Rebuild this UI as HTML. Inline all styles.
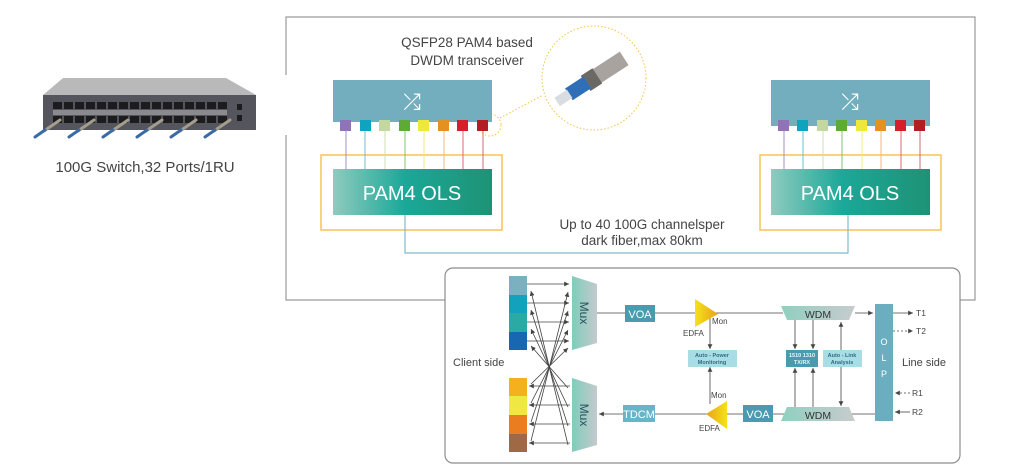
<!DOCTYPE html>
<html><head><meta charset="utf-8"><style>
html,body{margin:0;padding:0;background:#fff}
svg{display:block}
text{font-family:"Liberation Sans",sans-serif}
</style></head><body>
<svg width="1024" height="476" viewBox="0 0 1024 476" xmlns="http://www.w3.org/2000/svg">
<defs>
<linearGradient id="ols" x1="0" x2="1"><stop offset="0" stop-color="#8fcbbf"/><stop offset="0.45" stop-color="#1ba898"/><stop offset="1" stop-color="#1e9275"/></linearGradient>
<linearGradient id="mux" x1="0" x2="1"><stop offset="0" stop-color="#7ecdbb"/><stop offset="1" stop-color="#c4c9cc"/></linearGradient>
<linearGradient id="wdm" x1="0" x2="1"><stop offset="0" stop-color="#8fd0bf"/><stop offset="1" stop-color="#c8cbce"/></linearGradient>
<linearGradient id="edfa" x1="0" x2="1"><stop offset="0" stop-color="#f5e21a"/><stop offset="1" stop-color="#e9a21a"/></linearGradient>
<linearGradient id="edfa2" x1="1" x2="0"><stop offset="0" stop-color="#f5e21a"/><stop offset="1" stop-color="#e9a21a"/></linearGradient>
<marker id="ah" viewBox="0 0 6 6" refX="6" refY="3" markerWidth="6" markerHeight="6" orient="auto-start-reverse"><path d="M0,0 L6,3 L0,6 z" fill="#444"/></marker>
</defs>

<g stroke="#9a9a9a" stroke-width="1.2" fill="none">
<path d="M286,75 V17 H975 V300 H960"/>
<path d="M286,135 V300 H445"/>
</g>

<polygon points="63,78 226,78 256,95 43,95" fill="#b9b9b9"/>
<rect x="43" y="95" width="213" height="35" fill="#55555d"/>
<g fill="#1c1c1f">
<rect x="53" y="102" width="9" height="7"/><rect x="64" y="102" width="9" height="7"/><rect x="75" y="102" width="9" height="7"/><rect x="86" y="102" width="9" height="7"/><rect x="97" y="102" width="9" height="7"/><rect x="108" y="102" width="9" height="7"/><rect x="119" y="102" width="9" height="7"/><rect x="130" y="102" width="9" height="7"/><rect x="141" y="102" width="9" height="7"/><rect x="152" y="102" width="9" height="7"/><rect x="163" y="102" width="9" height="7"/><rect x="174" y="102" width="9" height="7"/><rect x="185" y="102" width="9" height="7"/><rect x="196" y="102" width="9" height="7"/><rect x="207" y="102" width="9" height="7"/><rect x="218" y="102" width="9" height="7"/>
<rect x="53" y="116" width="9" height="7"/><rect x="64" y="116" width="9" height="7"/><rect x="75" y="116" width="9" height="7"/><rect x="86" y="116" width="9" height="7"/><rect x="97" y="116" width="9" height="7"/><rect x="108" y="116" width="9" height="7"/><rect x="119" y="116" width="9" height="7"/><rect x="130" y="116" width="9" height="7"/><rect x="141" y="116" width="9" height="7"/><rect x="152" y="116" width="9" height="7"/><rect x="163" y="116" width="9" height="7"/><rect x="174" y="116" width="9" height="7"/><rect x="185" y="116" width="9" height="7"/><rect x="196" y="116" width="9" height="7"/><rect x="207" y="116" width="9" height="7"/><rect x="218" y="116" width="9" height="7"/>
<rect x="237" y="104" width="5" height="6"/><rect x="237" y="115" width="5" height="6"/>
</g>
<rect x="53" y="110" width="174" height="5" fill="#8a8a8f"/>
<g stroke-linecap="round">
<g stroke="#a59d8c" stroke-width="3"><line x1="60" y1="120" x2="44" y2="131"/><line x1="94" y1="120" x2="78" y2="131"/><line x1="128" y1="120" x2="112" y2="131"/><line x1="162" y1="120" x2="146" y2="131"/><line x1="196" y1="120" x2="180" y2="131"/><line x1="230" y1="120" x2="214" y2="131"/></g>
<g stroke="#3b6aa8" stroke-width="3"><line x1="45" y1="130" x2="35" y2="137"/><line x1="79" y1="130" x2="69" y2="137"/><line x1="113" y1="130" x2="103" y2="137"/><line x1="147" y1="130" x2="137" y2="137"/><line x1="181" y1="130" x2="171" y2="137"/><line x1="215" y1="130" x2="205" y2="137"/></g>
</g>
<text x="145" y="172" font-size="15" fill="#444" text-anchor="middle">100G Switch,32 Ports/1RU</text>

<text x="467" y="47" font-size="13.5" fill="#444" text-anchor="middle">QSFP28 PAM4 based</text>
<text x="467" y="65" font-size="13.5" fill="#444" text-anchor="middle">DWDM transceiver</text>
<circle cx="594" cy="78" r="52" fill="none" stroke="#f6c14a" stroke-width="1" stroke-dasharray="1.5,2"/>
<circle cx="490" cy="125" r="11" fill="none" stroke="#f6c14a" stroke-width="1" stroke-dasharray="1.5,2"/>
<line x1="500" y1="118" x2="543" y2="95" stroke="#f6c14a" stroke-width="1" stroke-dasharray="1.5,2"/>
<g transform="translate(594,78) rotate(-33)">
<rect x="-8" y="-8" width="44" height="16" fill="#a8a39e"/>
<rect x="-10" y="-9" width="14" height="18" fill="#6b6966"/>
<rect x="-30" y="-7" width="22" height="14" fill="#2f6fb8"/>
<rect x="-44" y="-5" width="15" height="10" fill="#d8dde2"/>
</g>

<rect x="321" y="155" width="181" height="75" fill="none" stroke="#f6c453" stroke-width="1.5"/>
<rect x="333" y="80" width="159" height="42" fill="#72aebe"/>
<text x="412" y="109" font-size="22" fill="#fff" text-anchor="middle">⤮</text>
<g stroke-width="1">
<line x1="346" y1="128" x2="346" y2="169" stroke="#a592c5"/><line x1="365" y1="128" x2="365" y2="169" stroke="#6cc2d2"/><line x1="385" y1="128" x2="385" y2="169" stroke="#cfdcb4"/><line x1="405" y1="128" x2="405" y2="169" stroke="#84c46a"/><line x1="424" y1="128" x2="424" y2="169" stroke="#f1ec7a"/><line x1="444" y1="128" x2="444" y2="169" stroke="#f1b977"/><line x1="463" y1="128" x2="463" y2="169" stroke="#de6970"/><line x1="483" y1="128" x2="483" y2="169" stroke="#c76c70"/>
</g>
<g>
<rect x="340" y="120" width="11" height="11" fill="#8e74b6"/><rect x="360" y="120" width="11" height="11" fill="#10a3be"/><rect x="379" y="120" width="11" height="11" fill="#c3d7a0"/><rect x="399" y="120" width="11" height="11" fill="#5daa35"/><rect x="418" y="120" width="11" height="11" fill="#eee83c"/><rect x="438" y="120" width="11" height="11" fill="#e39120"/><rect x="457" y="120" width="11" height="11" fill="#d51f2a"/><rect x="477" y="120" width="11" height="11" fill="#b11f24"/>
</g>
<rect x="333" y="169" width="159" height="46" fill="url(#ols)"/>
<text x="412" y="200" font-size="20" fill="#fff" text-anchor="middle">PAM4 OLS</text>

<rect x="760" y="155" width="181" height="75" fill="none" stroke="#f6c453" stroke-width="1.5"/>
<rect x="771" y="80" width="159" height="46" fill="#72aebe"/>
<text x="850" y="109" font-size="22" fill="#fff" text-anchor="middle">⤮</text>
<g stroke-width="1">
<line x1="784" y1="128" x2="784" y2="169" stroke="#a592c5"/><line x1="803" y1="128" x2="803" y2="169" stroke="#6cc2d2"/><line x1="823" y1="128" x2="823" y2="169" stroke="#cfdcb4"/><line x1="842" y1="128" x2="842" y2="169" stroke="#84c46a"/><line x1="862" y1="128" x2="862" y2="169" stroke="#f1ec7a"/><line x1="881" y1="128" x2="881" y2="169" stroke="#f1b977"/><line x1="901" y1="128" x2="901" y2="169" stroke="#de6970"/><line x1="920" y1="128" x2="920" y2="169" stroke="#c76c70"/>
</g>
<g>
<rect x="778" y="120" width="11" height="11" fill="#8e74b6"/><rect x="797" y="120" width="11" height="11" fill="#10a3be"/><rect x="817" y="120" width="11" height="11" fill="#c3d7a0"/><rect x="836" y="120" width="11" height="11" fill="#5daa35"/><rect x="856" y="120" width="11" height="11" fill="#eee83c"/><rect x="875" y="120" width="11" height="11" fill="#e39120"/><rect x="895" y="120" width="11" height="11" fill="#d51f2a"/><rect x="914" y="120" width="11" height="11" fill="#b11f24"/>
</g>
<rect x="771" y="169" width="159" height="46" fill="url(#ols)"/>
<text x="850" y="200" font-size="20" fill="#fff" text-anchor="middle">PAM4 OLS</text>

<path d="M405,215 V253 H848 V215" fill="none" stroke="#7dbccb" stroke-width="1.2"/>
<text x="642" y="229" font-size="13.5" fill="#444" text-anchor="middle">Up to 40 100G channelsper</text>
<text x="642" y="245" font-size="13.5" fill="#444" text-anchor="middle">dark fiber,max 80km</text>

<rect x="445" y="268" width="515" height="195" rx="8" fill="#fff" stroke="#8c8c8c" stroke-width="1.2"/>
<text x="453" y="366" font-size="11" fill="#444">Client side</text>
<text x="902" y="366" font-size="11" fill="#444">Line side</text>

<rect x="509" y="276" width="18" height="19" fill="#7ab0c0"/><rect x="509" y="295" width="18" height="18" fill="#12a2bd"/><rect x="509" y="313" width="18" height="19" fill="#2aa9a5"/><rect x="509" y="332" width="18" height="18" fill="#1767b3"/>
<rect x="509" y="378" width="18" height="18" fill="#f5b01e"/><rect x="509" y="396" width="18" height="19" fill="#efe842"/><rect x="509" y="415" width="18" height="19" fill="#e97d20"/><rect x="509" y="434" width="18" height="18" fill="#a06844"/>

<polygon points="572,276 597,284 597,343 572,350" fill="url(#mux)"/>
<polygon points="572,378 597,386 597,445 572,452" fill="url(#mux)"/>
<text transform="translate(580,313) rotate(90)" font-size="12" fill="#2a4f5f" text-anchor="middle">Mux</text>
<text transform="translate(580,415) rotate(90)" font-size="12" fill="#2a4f5f" text-anchor="middle">Mux</text>

<g stroke="#444" stroke-width="0.8" fill="none">
<line x1="527" y1="284" x2="569" y2="284" marker-end="url(#ah)"/><line x1="527" y1="303" x2="569" y2="303" marker-end="url(#ah)"/><line x1="527" y1="322" x2="569" y2="322" marker-end="url(#ah)"/><line x1="527" y1="341" x2="569" y2="341" marker-end="url(#ah)"/>
<line x1="570" y1="386" x2="529" y2="386" marker-end="url(#ah)"/><line x1="570" y1="405" x2="529" y2="405" marker-end="url(#ah)"/><line x1="570" y1="424" x2="529" y2="424" marker-end="url(#ah)"/><line x1="570" y1="443" x2="529" y2="443" marker-end="url(#ah)"/>
<line x1="568" y1="445" x2="531" y2="291" marker-end="url(#ah)"/><line x1="568" y1="426" x2="531" y2="310" marker-end="url(#ah)"/><line x1="568" y1="407" x2="531" y2="329" marker-end="url(#ah)"/><line x1="568" y1="388" x2="531" y2="346" marker-end="url(#ah)"/>
<line x1="531" y1="441" x2="568" y2="292" marker-end="url(#ah)"/><line x1="531" y1="422" x2="568" y2="311" marker-end="url(#ah)"/><line x1="531" y1="403" x2="568" y2="330" marker-end="url(#ah)"/><line x1="531" y1="384" x2="568" y2="348" marker-end="url(#ah)"/>
<line x1="597" y1="313" x2="783" y2="313"/>
<line x1="855" y1="313" x2="873" y2="313" marker-end="url(#ah)"/>
<line x1="893" y1="313" x2="913" y2="313" marker-end="url(#ah)"/>
<line x1="893" y1="331" x2="913" y2="331" stroke-dasharray="2,2" marker-end="url(#ah)"/>
<line x1="910" y1="393" x2="895" y2="393" stroke-dasharray="2,2" marker-end="url(#ah)"/>
<line x1="910" y1="412" x2="895" y2="412" marker-end="url(#ah)"/>
<line x1="875" y1="414" x2="599" y2="414" marker-end="url(#ah)"/>
<line x1="710" y1="318" x2="710" y2="349" marker-end="url(#ah)"/>
<line x1="710" y1="404" x2="710" y2="367" marker-end="url(#ah)"/>
<line x1="795" y1="320" x2="795" y2="349" marker-end="url(#ah)"/>
<line x1="813" y1="320" x2="813" y2="349" marker-end="url(#ah)"/>
<line x1="795" y1="407" x2="795" y2="368" marker-end="url(#ah)"/>
<line x1="813" y1="407" x2="813" y2="368" marker-end="url(#ah)"/>
<line x1="841" y1="322" x2="841" y2="406" marker-start="url(#ah)" marker-end="url(#ah)"/>
</g>

<rect x="625" y="305" width="30" height="17" fill="#4a9ab0"/><text x="640" y="318" font-size="11" fill="#fff" text-anchor="middle">VOA</text>
<rect x="623" y="405" width="32" height="17" fill="#66b6c7"/><text x="639" y="418" font-size="11" fill="#fff" text-anchor="middle">TDCM</text>
<rect x="743" y="405" width="30" height="17" fill="#4a9ab0"/><text x="758" y="418" font-size="11" fill="#fff" text-anchor="middle">VOA</text>

<polygon points="695,299 718,314 695,327" fill="url(#edfa)"/>
<polygon points="727,401 706,414 727,429" fill="url(#edfa2)"/>
<text x="712" y="324" font-size="8" fill="#444">Mon</text>
<text x="683" y="336" font-size="8" fill="#444">EDFA</text>
<text x="711" y="398" font-size="8" fill="#444">Mon</text>
<text x="699" y="431" font-size="8" fill="#444">EDFA</text>

<rect x="688" y="350" width="49" height="17" fill="#a9dde6"/>
<text x="712" y="357" font-size="5.5" font-weight="bold" fill="#2a6f80" text-anchor="middle">Auto - Power</text>
<text x="712" y="364" font-size="5.5" font-weight="bold" fill="#2a6f80" text-anchor="middle">Monitoring</text>
<rect x="786" y="350" width="32" height="17" fill="#4a9ab0"/>
<text x="802" y="357" font-size="5.5" font-weight="bold" fill="#e8f5f8" text-anchor="middle">1510 1310</text>
<text x="802" y="364" font-size="5.5" font-weight="bold" fill="#e8f5f8" text-anchor="middle">TX/RX</text>
<rect x="823" y="350" width="39" height="17" fill="#a9dde6"/>
<text x="842" y="357" font-size="5.5" font-weight="bold" fill="#2a6f80" text-anchor="middle">Auto - Link</text>
<text x="842" y="364" font-size="5.5" font-weight="bold" fill="#2a6f80" text-anchor="middle">Analysis</text>

<polygon points="781,306 855,306 849,320 787,320" fill="url(#wdm)"/>
<polygon points="787,407 849,407 855,421 781,421" fill="url(#wdm)"/>
<text x="818" y="318" font-size="10.5" fill="#333" text-anchor="middle">WDM</text>
<text x="818" y="419" font-size="10.5" fill="#333" text-anchor="middle">WDM</text>

<rect x="875" y="304" width="18" height="117" fill="#6aaec0"/>
<text x="884" y="345" font-size="9" fill="#fff" text-anchor="middle">O</text>
<text x="884" y="361" font-size="9" fill="#fff" text-anchor="middle">L</text>
<text x="884" y="377" font-size="9" fill="#fff" text-anchor="middle">P</text>

<text x="916" y="316" font-size="8.5" fill="#444">T1</text>
<text x="916" y="334" font-size="8.5" fill="#444">T2</text>
<text x="912" y="396" font-size="8.5" fill="#444">R1</text>
<text x="912" y="415" font-size="8.5" fill="#444">R2</text>
</svg>
</body></html>
